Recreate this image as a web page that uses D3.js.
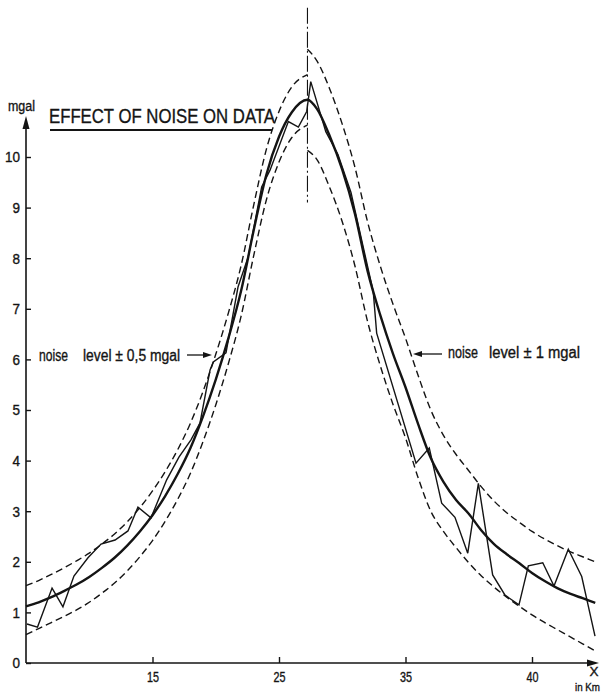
<!DOCTYPE html>
<html>
<head>
<meta charset="utf-8">
<script src="https://d3js.org/d3.v7.min.js"></script>
<style>
  body { margin: 0; background: #fff; }
  svg { display: block; font-family: "Liberation Sans", Arial, sans-serif; }
</style>
</head>
<body>
<div id="chart"></div>
<script>
// km positions of the smooth curve samples, split at the anomaly maximum
var leftKm = [5,6,7,8,9,10,11,12,13,14,15,16,17,18,19,20,21,22,23,24,25,26,27.25];
var rightKm = [27.25,28,29,30,31,32,33,34,35,36,37,38,39,40,41,42,43,44,45,46,47,48,49,50];

// smooth anomaly (mgal)
var smoothLeft = [1.12,1.2,1.3,1.42,1.55,1.7,1.88,2.08,2.32,2.6,2.92,3.3,3.74,4.25,4.88,5.6,6.42,7.35,8.55,9.65,10.4,10.88,11.13];
var smoothRight = [11.13,10.95,10.42,9.75,8.88,7.75,6.88,6.12,5.45,4.72,4.05,3.58,3.22,2.95,2.62,2.35,2.15,1.97,1.78,1.62,1.48,1.37,1.28,1.19];

// dashed noise envelopes (±0.5 on the left, ±1 on the right)
var upperLeft = [1.53,1.63,1.75,1.88,2.02,2.17,2.35,2.55,2.79,3.07,3.4,3.78,4.22,4.74,5.37,6.1,6.92,7.85,9.05,10.15,10.9,11.38,11.63];
var lowerLeft = [0.56,0.68,0.8,0.92,1.05,1.2,1.38,1.58,1.82,2.1,2.42,2.8,3.24,3.75,4.38,5.1,5.92,6.85,8.05,9.15,9.9,10.38,10.63];
var upperRight = [12.13,11.9,11.35,10.65,9.8,8.72,7.85,7.1,6.42,5.68,5.0,4.5,4.12,3.8,3.48,3.2,2.97,2.78,2.6,2.45,2.32,2.2,2.1,2.0];
var lowerRight = [10.13,9.95,9.4,8.72,7.85,6.75,5.88,5.12,4.45,3.66,3.0,2.6,2.28,1.98,1.72,1.5,1.3,1.12,0.95,0.8,0.66,0.52,0.38,0.24];

// noisy data
var noiseKm = [5.08,5.91,7.06,7.92,8.79,9.9,10.93,12.04,13.06,13.85,14.88,16.12,17.09,18.04,18.75,19.55,19.81,20.81,21.76,22.57,23.63,24.29,25.74,26.53,27.19,27.51,28.7,29.66,30.69,31.66,32.45,32.72,35.83,36.88,37.86,38.91,39.92,40.76,41.89,42.87,43.97,44.71,45.85,46.74,47.87,48.93,49.98];
var noiseVal = [0.77,0.71,1.48,1.11,1.72,2.08,2.35,2.43,2.61,3.08,2.87,3.62,4.07,4.41,4.74,5.79,5.95,6.13,7.43,8.03,9.41,9.74,10.7,10.59,10.9,11.49,10.5,10.05,9.3,8.22,7.34,6.52,3.95,4.25,3.16,2.88,2.17,3.55,1.74,1.34,1.15,1.92,1.98,1.52,2.25,1.71,0.53];

var yTicks = [0,1,2,3,4,5,6,7,8,9,10];
var xTickValues = [15,25,35,45];
var xTickLabels = ["15","25","35","40"];
var peakKm = 27.25;
var markerRange = [9.1, 12.95];

var w = 603, h = 700;
var svg = d3.select("#chart").append("svg")
    .attr("width", w)
    .attr("height", h);

var x = d3.scaleLinear().domain([5, 50]).range([26, 595.25]);
var y = d3.scaleLinear().domain([0, 10]).range([663, 157]);

var ink = "#141414";

function zip(xs, ys) {
    return xs.map(function (d, i) { return [d, ys[i]]; });
}

// condensed lettering like the stencilled original
function label(sel, px, py, size, str, len, anchor) {
    return sel.append("text")
        .attr("x", px).attr("y", py)
        .attr("font-size", size)
        .attr("fill", ink).attr("stroke", ink).attr("stroke-width", 0.35)
        .attr("text-anchor", anchor || "start")
        .attr("textLength", len).attr("lengthAdjust", "spacingAndGlyphs")
        .text(str);
}

var line = d3.line()
    .x(function (d) { return x(d[0]); })
    .y(function (d) { return y(d[1]); })
    .curve(d3.curveMonotoneX);

var polyline = d3.line()
    .x(function (d) { return x(d[0]); })
    .y(function (d) { return y(d[1]); });

// axes
var yAxis = d3.axisLeft(y).tickValues(yTicks).tickSize(-5).tickSizeOuter(0).tickPadding(6);
var gy = svg.append("g").attr("transform", "translate(" + x(5) + ",0)").call(yAxis);
gy.select(".domain").remove();
gy.selectAll("line").attr("stroke", ink).attr("stroke-width", 1.4);
gy.selectAll("text")
    .attr("font-size", 15).attr("fill", ink).attr("stroke", ink).attr("stroke-width", 0.35)
    .attr("textLength", function (d) { return String(d).length * 7.5; })
    .attr("lengthAdjust", "spacingAndGlyphs");

var xAxis = d3.axisBottom(x).tickValues(xTickValues)
    .tickFormat(function (d, i) { return xTickLabels[i]; })
    .tickSize(-6).tickSizeOuter(0).tickPadding(9);
var gx = svg.append("g").attr("transform", "translate(0," + y(0) + ")").call(xAxis);
gx.select(".domain").remove();
gx.selectAll("line").attr("stroke", ink).attr("stroke-width", 1.4);
gx.selectAll("text")
    .attr("font-size", 14).attr("fill", ink).attr("stroke", ink).attr("stroke-width", 0.35)
    .attr("textLength", 12).attr("lengthAdjust", "spacingAndGlyphs");

// axis lines with arrow heads
svg.append("line").attr("x1", x(5)).attr("y1", y(0)).attr("x2", x(5)).attr("y2", 120)
    .attr("stroke", ink).attr("stroke-width", 1.6);
svg.append("path").attr("d", "M" + x(5) + ",116 l-3.5,13 l7,0 z").attr("fill", ink);
svg.append("line").attr("x1", x(5)).attr("y1", y(0)).attr("x2", 594).attr("y2", y(0))
    .attr("stroke", ink).attr("stroke-width", 1.6);
svg.append("path").attr("d", "M599," + y(0) + " l-12,-3.5 l0,7 z").attr("fill", ink);

label(svg, 8, 111, 14, "mgal", 27);
label(svg, 594, 676, 13, "X", 9, "middle");
label(svg, 575, 691, 11.5, "in Km", 25);

// dash-dot line through the maximum
svg.append("line")
    .attr("x1", x(peakKm)).attr("x2", x(peakKm))
    .attr("y1", y(markerRange[1])).attr("y2", y(markerRange[0]))
    .attr("stroke", ink).attr("stroke-width", 1.1)
    .attr("stroke-dasharray", "16,3,2,3");

// envelopes
[[leftKm, upperLeft], [leftKm, lowerLeft], [rightKm, upperRight], [rightKm, lowerRight]].forEach(function (s) {
    svg.append("path")
        .attr("d", line(zip(s[0], s[1])))
        .attr("fill", "none")
        .attr("stroke", ink)
        .attr("stroke-width", 1.4)
        .attr("stroke-dasharray", "7,4");
});

// smooth curve
svg.append("path")
    .attr("d", line(zip(leftKm.concat(rightKm.slice(1)), smoothLeft.concat(smoothRight.slice(1)))))
    .attr("fill", "none")
    .attr("stroke", ink)
    .attr("stroke-width", 2.4);

// noisy data
svg.append("path")
    .attr("d", polyline(zip(noiseKm, noiseVal)))
    .attr("fill", "none")
    .attr("stroke", ink)
    .attr("stroke-width", 1.4)
    .attr("stroke-linejoin", "miter");

// title and underline
label(svg, 49, 123, 21, "EFFECT OF NOISE ON DATA", 226);
svg.append("line").attr("x1", 50).attr("x2", 272).attr("y1", 130).attr("y2", 130)
    .attr("stroke", ink).attr("stroke-width", 1.8);

// noise level annotations
label(svg, 39, 361, 16, "noise", 29);
label(svg, 83, 361, 16, "level \u00b1 0,5 mgal", 97);
svg.append("line").attr("x1", 187).attr("x2", 205).attr("y1", 355).attr("y2", 355)
    .attr("stroke", ink).attr("stroke-width", 1.3);
svg.append("path").attr("d", "M212,355 l-9,-3 l0,6 z").attr("fill", ink);

label(svg, 448, 358, 16, "noise", 30);
label(svg, 489, 358, 16, "level \u00b1 1 mgal", 91);
svg.append("line").attr("x1", 420).attr("x2", 442).attr("y1", 354).attr("y2", 354)
    .attr("stroke", ink).attr("stroke-width", 1.3);
svg.append("path").attr("d", "M413,354 l9,-3 l0,6 z").attr("fill", ink);
</script>
</body>
</html>
